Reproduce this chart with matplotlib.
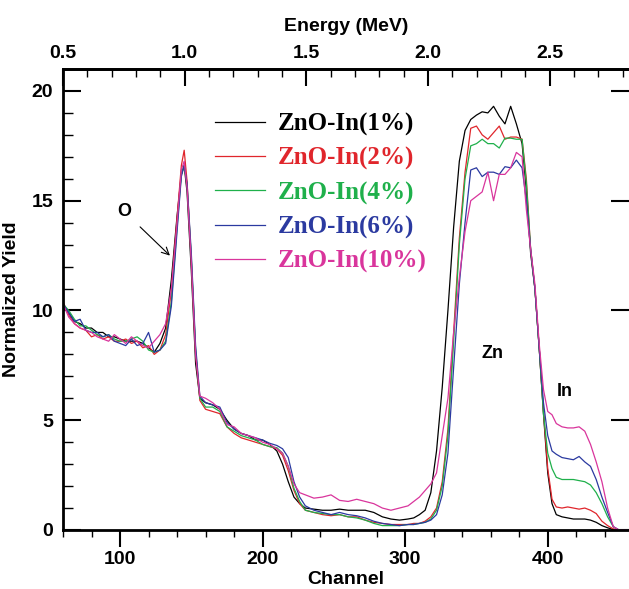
import numpy as np
import matplotlib
matplotlib.use('Agg')
import matplotlib.pyplot as plt

# canaux (grille commune)
channel = [60, 64, 68, 72, 76, 80, 84, 88, 92, 96,
           100, 104, 108, 112, 116, 120, 124, 128, 132, 136,
           140, 143, 145, 147, 150, 153, 156, 160, 165, 170,
           175, 180, 185, 190, 195, 200, 205, 210, 214, 218,
           222, 226, 230, 236, 242, 248, 254, 260, 266, 272,
           278, 284, 290, 296, 302, 306, 310, 314, 318, 322,
           326, 330, 334, 338, 342, 346, 350, 354, 358, 362,
           366, 370, 374, 378, 382, 385, 388, 391, 394, 397,
           400, 403, 406, 410, 414, 418, 422, 426, 430, 434,
           438, 442, 446, 450, 456]

y_1pc = [10.3, 9.9, 9.5, 9.4, 9.2, 9.2, 9.0, 9.0, 8.8, 8.8,
         8.7, 8.6, 8.6, 8.6, 8.5, 8.3, 8.1, 8.5, 9.2, 11.4,
         14.3, 16.2, 16.6, 15.4, 11.8, 7.6, 6.0, 5.8, 5.7, 5.5,
         5.0, 4.6, 4.4, 4.3, 4.1, 4.1, 3.9, 3.6, 3.0, 2.2,
         1.5, 1.2, 1.0, 0.95, 0.9, 0.9, 0.95, 0.9, 0.9, 0.9,
         0.8, 0.6, 0.5, 0.45, 0.5, 0.55, 0.7, 0.9, 1.7, 3.6,
         6.5, 10.0, 13.8, 16.8, 18.2, 18.7, 18.9, 19.05, 19.0, 19.3,
         18.85, 18.5, 19.3, 18.5, 17.6, 15.5, 12.6, 11.0, 8.3, 5.3,
         2.6, 1.2, 0.7, 0.6, 0.55, 0.5, 0.5, 0.5, 0.45, 0.35,
         0.2, 0.1, 0.02, 0.0, 0.0]

y_2pc = [10.4, 9.8, 9.4, 9.2, 9.1, 8.8, 8.9, 8.7, 8.8, 8.6,
         8.6, 8.7, 8.5, 8.6, 8.3, 8.4, 8.0, 8.2, 8.9, 10.9,
         14.2, 16.6, 17.3, 15.9, 12.3, 8.1, 5.9, 5.5, 5.4, 5.3,
         4.7, 4.4, 4.2, 4.1, 4.0, 3.9, 3.8, 3.7, 3.4, 2.7,
         1.8, 1.2, 0.9, 0.8, 0.7, 0.65, 0.7, 0.6, 0.6, 0.45,
         0.35, 0.3, 0.25, 0.25, 0.25, 0.3, 0.3, 0.4, 0.6, 1.0,
         2.2, 4.6, 9.0, 13.3, 16.3, 18.3, 18.4, 18.0, 17.8, 18.1,
         18.4, 17.8, 17.9, 17.9, 17.8, 16.0, 12.8, 11.0, 8.3, 5.4,
         2.8, 1.4, 1.05, 1.0, 1.05, 1.0, 0.95, 1.0, 0.9, 0.75,
         0.4, 0.2, 0.05, 0.0, 0.0]

y_4pc = [10.3, 10.0, 9.6, 9.3, 9.3, 9.1, 8.9, 8.8, 8.9, 8.7,
         8.6, 8.6, 8.7, 8.8, 8.6, 8.2, 8.1, 8.2, 8.6, 10.4,
         13.8, 16.2, 16.6, 15.7, 12.4, 8.2, 6.0, 5.6, 5.6, 5.4,
         4.7, 4.5, 4.3, 4.2, 4.1, 3.9, 3.8, 3.75, 3.5, 2.9,
         1.9, 1.3, 0.9, 0.8, 0.75, 0.7, 0.7, 0.6, 0.55, 0.45,
         0.3, 0.2, 0.2, 0.2, 0.25, 0.25, 0.3, 0.35, 0.5, 0.9,
         2.0, 4.3, 8.6, 13.0, 16.0, 17.5, 17.6, 17.8, 17.6, 17.6,
         17.4, 17.85, 17.85, 17.8, 17.8, 15.8, 12.8, 11.0, 8.3, 5.3,
         3.5, 2.8, 2.4, 2.3, 2.3, 2.3, 2.25, 2.2, 2.05, 1.7,
         1.2, 0.6, 0.15, 0.0, 0.0]

y_6pc = [10.3, 9.9, 9.5, 9.6, 9.1, 9.0, 9.0, 8.8, 8.9, 8.6,
         8.5, 8.4, 8.7, 8.4, 8.5, 9.0, 8.1, 8.2, 8.5, 10.2,
         13.6, 16.1, 16.6, 15.8, 12.6, 8.4, 6.1, 5.8, 5.7, 5.6,
         4.9, 4.6, 4.4, 4.3, 4.2, 4.1, 3.95, 3.85, 3.7, 3.3,
         2.2, 1.5, 1.1, 0.9, 0.8, 0.7, 0.8, 0.7, 0.65, 0.55,
         0.4, 0.3, 0.25, 0.2, 0.25, 0.25, 0.3, 0.35, 0.45, 0.7,
         1.6, 3.5, 7.4, 11.2, 14.0, 16.4, 16.5, 16.1, 16.3, 16.3,
         16.2, 16.55, 16.5, 16.85, 16.5, 15.0, 12.8, 11.0, 8.3, 5.8,
         4.3, 3.6, 3.45, 3.3, 3.25, 3.2, 3.35, 3.1, 2.9, 2.3,
         1.5, 0.8, 0.15, 0.0, 0.0]

y_10pc = [10.3, 9.7, 9.4, 9.2, 9.1, 9.0, 8.8, 8.7, 8.6, 8.9,
          8.7, 8.5, 8.8, 8.6, 8.4, 8.3, 8.6, 8.9, 9.4, 11.0,
          14.0, 16.4, 16.8, 15.6, 12.2, 8.0, 6.1, 6.0, 5.8, 5.5,
          4.8, 4.7, 4.4, 4.3, 4.2, 4.0, 3.9, 3.7, 3.5, 2.9,
          2.1, 1.7, 1.6, 1.45, 1.5, 1.6, 1.35, 1.3, 1.4, 1.3,
          1.2, 1.0, 0.9, 1.0, 1.1, 1.3, 1.5, 1.8, 2.1, 2.6,
          4.3, 6.0, 9.0, 11.5, 13.6, 15.0, 15.2, 15.4, 16.3, 15.0,
          16.2, 16.2, 16.5, 17.2, 17.0, 14.6, 12.8, 11.2, 8.5, 6.4,
          5.4, 5.25, 4.85, 4.7, 4.65, 4.65, 4.7, 4.5, 3.9, 3.1,
          2.2, 1.0, 0.15, 0.0, 0.0]

labels = ['ZnO-In(1%)', 'ZnO-In(2%)', 'ZnO-In(4%)', 'ZnO-In(6%)', 'ZnO-In(10%)']
couleurs = ['#000000', '#e0262c', '#1fb04b', '#2b3aa0', '#d9359c']
series = [y_1pc, y_2pc, y_4pc, y_6pc, y_10pc]

# conversion canal -> energie (MeV)
e0, ch0, pente = 0.5, 60.0, 0.00586
def ch2e(c):
    return e0 + (np.asarray(c) - ch0) * pente
def e2ch(e):
    return ch0 + (np.asarray(e) - e0) / pente

plt.rcParams['font.family'] = 'Liberation Sans'
plt.rcParams['font.weight'] = 'bold'

fig = plt.figure(figsize=(6.29, 5.89), dpi=100)
ax = fig.add_axes([63/629, 59/589, 1 - 63/629, (530-69)/589])

for y, lab, c in zip(series, labels, couleurs):
    ax.plot(channel, y, color=c, lw=0.9, label=lab)

ax.set_xlim(60, 457)
ax.set_ylim(0, 21)
ax.set_xticks([100, 200, 300, 400])
ax.set_xticks(np.arange(60, 457, 20), minor=True)
ax.set_yticks([0, 5, 10, 15, 20])
ax.set_yticks(np.arange(0, 21, 1), minor=True)
ax.tick_params(axis='x', which='major', direction='out', length=12, width=1.5, labelsize=14, pad=3)
ax.tick_params(axis='x', which='minor', direction='out', length=5, width=1)
ax.tick_params(axis='y', which='major', direction='in', length=13, width=1.5, labelsize=14, right=True, pad=7)
ax.tick_params(axis='y', which='minor', direction='in', length=7, width=1)
ax.tick_params(axis='x', top=False, which='both')
for s in ['left', 'bottom', 'top']:
    ax.spines[s].set_linewidth(2)
ax.spines['right'].set_visible(False)

ax.set_xlabel('Channel', fontsize=14, fontweight='bold', labelpad=2)
ax.set_ylabel('Normalized Yield', fontsize=14, fontweight='bold', labelpad=8)

top = ax.secondary_xaxis('top', functions=(ch2e, e2ch))
top.set_xticks([0.5, 1.0, 1.5, 2.0, 2.5])
top.set_xticks(np.arange(0.5, 2.86, 0.1), minor=True)
top.xaxis.set_major_formatter(matplotlib.ticker.FormatStrFormatter('%.1f'))
top.tick_params(which='major', direction='in', length=12, width=1.5, labelsize=14, pad=5)
top.tick_params(which='minor', direction='in', length=6, width=1)
top.spines['top'].set_linewidth(2)
top.set_xlabel('Energy (MeV)', fontsize=14, fontweight='bold', labelpad=10)

leg = ax.legend(loc='upper left', bbox_to_anchor=(0.269, 0.906), frameon=False,
                borderaxespad=0, borderpad=0,
                handlelength=2.0, handletextpad=0.5, labelspacing=0.44,
                labelcolor='linecolor',
                prop={'family': 'Liberation Serif', 'weight': 'bold', 'size': 18})

ax.annotate('O', xy=(135, 12.5), xytext=(103, 14.5), fontsize=13, fontweight='bold',
            ha='center', va='center',
            arrowprops=dict(arrowstyle='->', color='black', lw=0.8, shrinkA=6, shrinkB=0))
ax.text(361, 8.05, 'Zn', fontsize=13, fontweight='bold', ha='center', va='center')
ax.text(412, 6.3, 'In', fontsize=13, fontweight='bold', ha='center', va='center')

plt.savefig('out.png', dpi=100)
